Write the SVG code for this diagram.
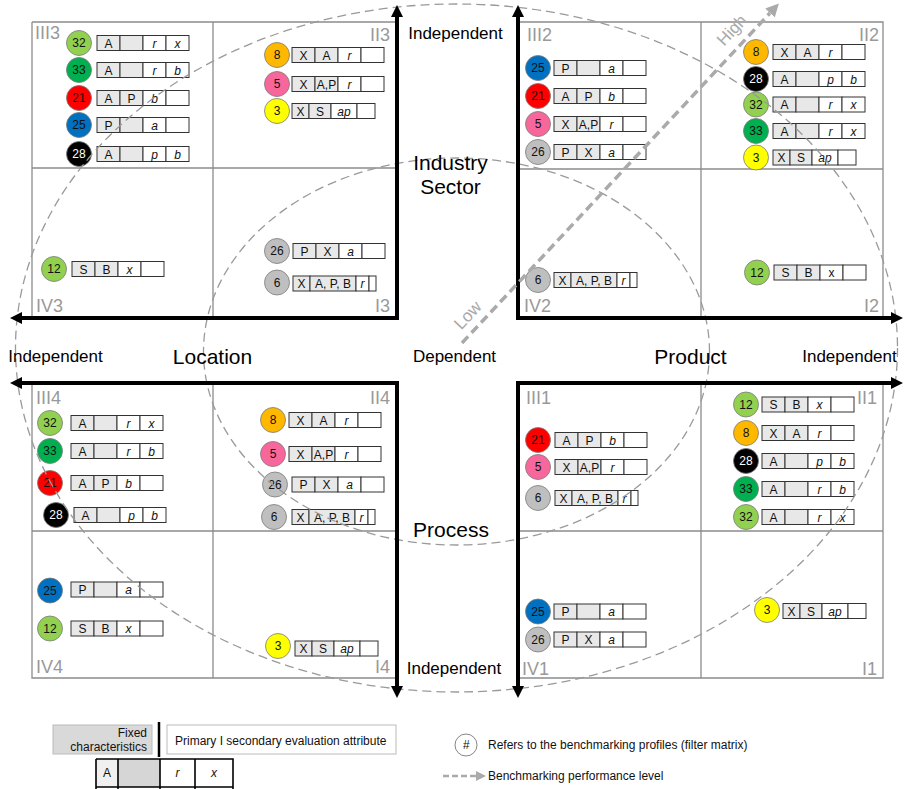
<svg xmlns="http://www.w3.org/2000/svg" xmlns:xlink="http://www.w3.org/1999/xlink" width="904" height="789" viewBox="0 0 904 789">
  <style>
    text { font-family: "Liberation Sans", Arial, sans-serif; }
    .grid { stroke: #8c8c8c; stroke-width: 1.3; fill: none; }
    .axis { stroke: #000; stroke-width: 4; fill: none; stroke-linejoin: miter; }
    .ell { stroke: #9a9a9a; stroke-width: 1.3; fill: none; stroke-dasharray: 9 5; }
    .ql { font-size: 18px; fill: #999; }
    .qr { font-size: 18px; fill: #999; text-anchor: end; }
    .lbl { font-size: 17px; fill: #000; text-anchor: middle; }
    .big { font-size: 21px; fill: #000; text-anchor: middle; }
    .pf text { font-size: 12px; text-anchor: middle; fill: #111; }
    .pf text.i { font-style: italic; }
    .pf text.w { fill: #fff; }
    .pf circle { stroke: #7a7a7a; stroke-width: 0.8; }
    .leg { font-size: 12px; fill: #111; }
  </style>
  <defs>
    <!-- profile cell rows: two fixed cells (grey) + two evaluation cells (white) -->
    <g id="r4">
      <rect x="0" y="0" width="23" height="15" fill="#e8e8e8" stroke="#333" stroke-width="1"/>
      <rect x="23" y="0" width="23" height="15" fill="#e8e8e8" stroke="#333" stroke-width="1"/>
      <rect x="46" y="0" width="23" height="15" fill="#fff" stroke="#333" stroke-width="1"/>
      <rect x="69" y="0" width="23" height="15" fill="#fff" stroke="#333" stroke-width="1"/>
    </g>
    <g id="rS">
      <rect x="0" y="0" width="17" height="15" fill="#e8e8e8" stroke="#333" stroke-width="1"/>
      <rect x="17" y="0" width="22" height="15" fill="#e8e8e8" stroke="#333" stroke-width="1"/>
      <rect x="39" y="0" width="26" height="15" fill="#fff" stroke="#333" stroke-width="1"/>
      <rect x="65" y="0" width="18" height="15" fill="#fff" stroke="#333" stroke-width="1"/>
    </g>
    <g id="rB">
      <rect x="0" y="0" width="17" height="15" fill="#e8e8e8" stroke="#333" stroke-width="1"/>
      <rect x="17" y="0" width="46" height="15" fill="#e8e8e8" stroke="#333" stroke-width="1"/>
      <rect x="63" y="0" width="13" height="15" fill="#fff" stroke="#333" stroke-width="1"/>
      <rect x="76" y="0" width="7" height="15" fill="#fff" stroke="#333" stroke-width="1"/>
    </g>
    <marker id="ah" viewBox="0 0 12 12" refX="0" refY="6" markerWidth="12" markerHeight="12" markerUnits="userSpaceOnUse" orient="auto-start-reverse">
      <path d="M0,0 L12,6 L0,12 z" fill="#000"/>
    </marker>
    <marker id="gh" viewBox="0 0 12 12" refX="0" refY="6" markerWidth="13" markerHeight="13" markerUnits="userSpaceOnUse" orient="auto">
      <path d="M0,0 L12,6 L0,12 z" fill="#aaa"/>
    </marker>
    <marker id="gh2" viewBox="0 0 12 12" refX="0" refY="6" markerWidth="10" markerHeight="10" markerUnits="userSpaceOnUse" orient="auto">
      <path d="M0,0 L12,6 L0,12 z" fill="#aaa"/>
    </marker>
  </defs>

  <rect width="904" height="789" fill="#fff"/>

  <!-- quadrant grids -->
  <g id="grids">
    <path class="grid" d="M32,22 H397 M32,22 V318 M213,22 V318 M32,168 H397"/>
    <path class="grid" d="M518,22 H883 V318 M701,22 V318 M518,169 H883"/>
    <path class="grid" d="M32,383 V678 H397 M213,383 V678 M32,531 H397"/>
    <path class="grid" d="M883,383 V678 H518 M701,383 V678 M518,531 H883"/>
  </g>

  <!-- quadrant cell labels -->
  <g id="cell-labels">
    <text class="ql" x="35" y="39">III3</text>
    <text class="qr" x="390" y="41">II3</text>
    <text class="ql" x="36" y="312">IV3</text>
    <text class="qr" x="390" y="312">I3</text>
    <text class="ql" x="527" y="41">III2</text>
    <text class="qr" x="879" y="41">II2</text>
    <text class="ql" x="524" y="312">IV2</text>
    <text class="qr" x="879" y="312">I2</text>
    <text class="ql" x="36" y="404">III4</text>
    <text class="qr" x="390" y="404">II4</text>
    <text class="ql" x="36" y="673">IV4</text>
    <text class="qr" x="390" y="673">I4</text>
    <text class="ql" x="526" y="404">III1</text>
    <text class="qr" x="877" y="404">II1</text>
    <text class="ql" x="522" y="675">IV1</text>
    <text class="qr" x="877" y="675">I1</text>
  </g>

  <!-- benchmarking profiles: quadrant 3 -->
  <g id="q3-32" class="pf" transform="translate(97,35.5)"><circle cx="-18" cy="7.5" r="12.5" fill="#92d050"/><use href="#r4"/><text x="11.5" y="12">A</text><text class="i" x="57.5" y="12">r</text><text class="i" x="80.5" y="12">x</text><text x="-18" y="11.8">32</text></g>
  <g id="q3-33" class="pf" transform="translate(97,62.5)"><circle cx="-18" cy="7.5" r="12.5" fill="#00b050"/><use href="#r4"/><text x="11.5" y="12">A</text><text class="i" x="57.5" y="12">r</text><text class="i" x="80.5" y="12">b</text><text x="-18" y="11.8">33</text></g>
  <g id="q3-21" class="pf" transform="translate(97,90.5)"><circle cx="-18" cy="7.5" r="12.5" fill="#ff0000"/><use href="#r4"/><text x="11.5" y="12">A</text><text x="34.5" y="12">P</text><text class="i" x="57.5" y="12">b</text><text x="-18" y="11.8">21</text></g>
  <g id="q3-25" class="pf" transform="translate(97,117.5)"><circle cx="-18" cy="7.5" r="12.5" fill="#0070c0"/><use href="#r4"/><text x="11.5" y="12">P</text><text class="i" x="57.5" y="12">a</text><text x="-18" y="11.8">25</text></g>
  <g id="q3-28" class="pf" transform="translate(97,146.5)"><circle cx="-18" cy="7.5" r="12.5" fill="#000"/><use href="#r4"/><text x="11.5" y="12">A</text><text class="i" x="57.5" y="12">p</text><text class="i" x="80.5" y="12">b</text><text class="w" x="-18" y="11.8">28</text></g>
  <g id="q3-8" class="pf" transform="translate(292,47.5)"><circle cx="-15" cy="7.5" r="12.5" fill="#ffb800"/><use href="#r4"/><text x="11.5" y="12">X</text><text x="34.5" y="12">A</text><text class="i" x="57.5" y="12">r</text><text x="-15" y="11.8">8</text></g>
  <g id="q3-5" class="pf" transform="translate(292,76.5)"><circle cx="-15" cy="7.5" r="12.5" fill="#f7679c"/><use href="#r4"/><text x="11.5" y="12">X</text><text x="34.5" y="12">A,P</text><text class="i" x="57.5" y="12">r</text><text x="-15" y="11.8">5</text></g>
  <g id="q3-3" class="pf" transform="translate(292,103.5)"><circle cx="-15" cy="7.5" r="12.5" fill="#ffff00"/><use href="#rS"/><text x="8.5" y="12">X</text><text x="28" y="12">S</text><text class="i" x="52" y="12">ap</text><text x="-15" y="11.8">3</text></g>
  <g id="q3-12" class="pf" transform="translate(72,261.5)"><circle cx="-18" cy="7.5" r="12.5" fill="#92d050"/><use href="#r4"/><text x="11.5" y="12">S</text><text x="34.5" y="12">B</text><text class="i" x="57.5" y="12">x</text><text x="-18" y="11.8">12</text></g>
  <g id="q3-26" class="pf" transform="translate(293,243.5)"><circle cx="-16" cy="7.5" r="12.5" fill="#bfbfbf"/><use href="#r4"/><text x="11.5" y="12">P</text><text x="34.5" y="12">X</text><text class="i" x="57.5" y="12">a</text><text x="-16" y="11.8">26</text></g>
  <g id="q3-6" class="pf" transform="translate(293,276)"><circle cx="-16" cy="6.5" r="12.5" fill="#bfbfbf"/><use href="#rB"/><text x="8.5" y="12">X</text><text x="40" y="12">A, P, B</text><text class="i" x="69.5" y="12">r</text><text x="-16" y="10.8">6</text></g>

  <!-- quadrant 2 -->
  <g id="q2-25" class="pf" transform="translate(554,60.5)"><circle cx="-16" cy="7.5" r="12.5" fill="#0070c0"/><use href="#r4"/><text x="11.5" y="12">P</text><text class="i" x="57.5" y="12">a</text><text x="-16" y="11.8">25</text></g>
  <g id="q2-21" class="pf" transform="translate(554,88.5)"><circle cx="-16" cy="7.5" r="12.5" fill="#ff0000"/><use href="#r4"/><text x="11.5" y="12">A</text><text x="34.5" y="12">P</text><text class="i" x="57.5" y="12">b</text><text x="-16" y="11.8">21</text></g>
  <g id="q2-5" class="pf" transform="translate(554,116.5)"><circle cx="-16" cy="7.5" r="12.5" fill="#f7679c"/><use href="#r4"/><text x="11.5" y="12">X</text><text x="34.5" y="12">A,P</text><text class="i" x="57.5" y="12">r</text><text x="-16" y="11.8">5</text></g>
  <g id="q2-26" class="pf" transform="translate(554,144.5)"><circle cx="-16" cy="7.5" r="12.5" fill="#bfbfbf"/><use href="#r4"/><text x="11.5" y="12">P</text><text x="34.5" y="12">X</text><text class="i" x="57.5" y="12">a</text><text x="-16" y="11.8">26</text></g>
  <g id="q2-8" class="pf" transform="translate(773,44.5)"><circle cx="-17" cy="7.5" r="12.5" fill="#ffb800"/><use href="#r4"/><text x="11.5" y="12">X</text><text x="34.5" y="12">A</text><text class="i" x="57.5" y="12">r</text><text x="-17" y="11.8">8</text></g>
  <g id="q2-28" class="pf" transform="translate(773,71.5)"><circle cx="-17" cy="7.5" r="12.5" fill="#000"/><use href="#r4"/><text x="11.5" y="12">A</text><text class="i" x="57.5" y="12">p</text><text class="i" x="80.5" y="12">b</text><text class="w" x="-17" y="11.8">28</text></g>
  <g id="q2-32" class="pf" transform="translate(773,97)"><circle cx="-17" cy="7.5" r="12.5" fill="#92d050"/><use href="#r4"/><text x="11.5" y="12">A</text><text class="i" x="57.5" y="12">r</text><text class="i" x="80.5" y="12">x</text><text x="-17" y="11.8">32</text></g>
  <g id="q2-33" class="pf" transform="translate(773,123.5)"><circle cx="-17" cy="7.5" r="12.5" fill="#00b050"/><use href="#r4"/><text x="11.5" y="12">A</text><text class="i" x="57.5" y="12">r</text><text class="i" x="80.5" y="12">x</text><text x="-17" y="11.8">33</text></g>
  <g id="q2-3" class="pf" transform="translate(773,150)"><circle cx="-17" cy="7.5" r="12.5" fill="#ffff00"/><use href="#rS"/><text x="8.5" y="12">X</text><text x="28" y="12">S</text><text class="i" x="52" y="12">ap</text><text x="-17" y="11.8">3</text></g>
  <g id="q2-6" class="pf" transform="translate(554,272.5)"><circle cx="-16" cy="7.5" r="12.5" fill="#bfbfbf"/><use href="#rB"/><text x="8.5" y="12">X</text><text x="40" y="12">A, P, B</text><text class="i" x="69.5" y="12">r</text><text x="-16" y="11.8">6</text></g>
  <g id="q2-12" class="pf" transform="translate(774,265)"><circle cx="-17" cy="7.5" r="12.5" fill="#92d050"/><use href="#r4"/><text x="11.5" y="12">S</text><text x="34.5" y="12">B</text><text x="57.5" y="12">x</text><text x="-17" y="11.8">12</text></g>

  <!-- quadrant 4 -->
  <g id="q4-32" class="pf" transform="translate(71,415.5)"><circle cx="-21" cy="7.5" r="12.5" fill="#92d050"/><use href="#r4"/><text x="11.5" y="12">A</text><text class="i" x="57.5" y="12">r</text><text class="i" x="80.5" y="12">x</text><text x="-21" y="11.8">32</text></g>
  <g id="q4-33" class="pf" transform="translate(71,443.5)"><circle cx="-21" cy="7.5" r="12.5" fill="#00b050"/><use href="#r4"/><text x="11.5" y="12">A</text><text class="i" x="57.5" y="12">r</text><text class="i" x="80.5" y="12">b</text><text x="-21" y="11.8">33</text></g>
  <g id="q4-21" class="pf" transform="translate(71,475.5)"><circle cx="-21" cy="7.5" r="12.5" fill="#ff0000"/><use href="#r4"/><text x="11.5" y="12">A</text><text x="34.5" y="12">P</text><text class="i" x="57.5" y="12">b</text><text x="-21" y="11.8">21</text></g>
  <g id="q4-28" class="pf" transform="translate(74,507.5)"><circle cx="-18" cy="7.5" r="12.5" fill="#000"/><use href="#r4"/><text x="11.5" y="12">A</text><text class="i" x="57.5" y="12">p</text><text class="i" x="80.5" y="12">b</text><text class="w" x="-18" y="11.8">28</text></g>
  <g id="q4-8" class="pf" transform="translate(289,412.5)"><circle cx="-16" cy="7.5" r="12.5" fill="#ffb800"/><use href="#r4"/><text x="11.5" y="12">X</text><text x="34.5" y="12">A</text><text class="i" x="57.5" y="12">r</text><text x="-16" y="11.8">8</text></g>
  <g id="q4-5" class="pf" transform="translate(289,446.5)"><circle cx="-16" cy="7.5" r="12.5" fill="#f7679c"/><use href="#r4"/><text x="11.5" y="12">X</text><text x="34.5" y="12">A,P</text><text class="i" x="57.5" y="12">r</text><text x="-16" y="11.8">5</text></g>
  <g id="q4-26" class="pf" transform="translate(292,477)"><circle cx="-17" cy="7.5" r="12.5" fill="#bfbfbf"/><use href="#r4"/><text x="11.5" y="12">P</text><text x="34.5" y="12">X</text><text class="i" x="57.5" y="12">a</text><text x="-17" y="11.8">26</text></g>
  <g id="q4-6" class="pf" transform="translate(292,509.5)"><circle cx="-18" cy="7.5" r="12.5" fill="#bfbfbf"/><use href="#rB"/><text x="8.5" y="12">X</text><text x="40" y="12">A, P, B</text><text class="i" x="69.5" y="12">r</text><text x="-18" y="11.8">6</text></g>
  <g id="q4-25" class="pf" transform="translate(71,582)"><circle cx="-21" cy="8.5" r="12.5" fill="#0070c0"/><use href="#r4"/><text x="11.5" y="12">P</text><text class="i" x="57.5" y="12">a</text><text x="-21" y="12.8">25</text></g>
  <g id="q4-12" class="pf" transform="translate(71,621)"><circle cx="-21" cy="7.5" r="12.5" fill="#92d050"/><use href="#r4"/><text x="11.5" y="12">S</text><text x="34.5" y="12">B</text><text class="i" x="57.5" y="12">x</text><text x="-21" y="11.8">12</text></g>
  <g id="q4-3" class="pf" transform="translate(295,641)"><circle cx="-17" cy="5" r="12.5" fill="#ffff00"/><use href="#rS"/><text x="8.5" y="12">X</text><text x="28" y="12">S</text><text class="i" x="52" y="12">ap</text><text x="-17" y="9.3">3</text></g>

  <!-- quadrant 1 -->
  <g id="q1-21" class="pf" transform="translate(555,432.5)"><circle cx="-17" cy="7.5" r="12.5" fill="#ff0000"/><use href="#r4"/><text x="11.5" y="12">A</text><text x="34.5" y="12">P</text><text class="i" x="57.5" y="12">b</text><text x="-17" y="11.8">21</text></g>
  <g id="q1-5" class="pf" transform="translate(555,459.5)"><circle cx="-17" cy="7.5" r="12.5" fill="#f7679c"/><use href="#r4"/><text x="11.5" y="12">X</text><text x="34.5" y="12">A,P</text><text class="i" x="57.5" y="12">r</text><text x="-17" y="11.8">5</text></g>
  <g id="q1-6" class="pf" transform="translate(555,490.5)"><circle cx="-17" cy="7.5" r="12.5" fill="#bfbfbf"/><use href="#rB"/><text x="8.5" y="12">X</text><text x="40" y="12">A, P, B</text><text class="i" x="69.5" y="12">r</text><text x="-17" y="11.8">6</text></g>
  <g id="q1-12" class="pf" transform="translate(762,397)"><circle cx="-16" cy="7.5" r="12.5" fill="#92d050"/><use href="#r4"/><text x="11.5" y="12">S</text><text x="34.5" y="12">B</text><text class="i" x="57.5" y="12">x</text><text x="-16" y="11.8">12</text></g>
  <g id="q1-8" class="pf" transform="translate(762,425.5)"><circle cx="-16" cy="7.5" r="12.5" fill="#ffb800"/><use href="#r4"/><text x="11.5" y="12">X</text><text x="34.5" y="12">A</text><text class="i" x="57.5" y="12">r</text><text x="-16" y="11.8">8</text></g>
  <g id="q1-28" class="pf" transform="translate(762,453.5)"><circle cx="-16" cy="7.5" r="12.5" fill="#000"/><use href="#r4"/><text x="11.5" y="12">A</text><text class="i" x="57.5" y="12">p</text><text class="i" x="80.5" y="12">b</text><text class="w" x="-16" y="11.8">28</text></g>
  <g id="q1-33" class="pf" transform="translate(762,481.5)"><circle cx="-16" cy="7.5" r="12.5" fill="#00b050"/><use href="#r4"/><text x="11.5" y="12">A</text><text class="i" x="57.5" y="12">r</text><text class="i" x="80.5" y="12">b</text><text x="-16" y="11.8">33</text></g>
  <g id="q1-32" class="pf" transform="translate(762,509.5)"><circle cx="-16" cy="7.5" r="12.5" fill="#92d050"/><use href="#r4"/><text x="11.5" y="12">A</text><text class="i" x="57.5" y="12">r</text><text class="i" x="80.5" y="12">x</text><text x="-16" y="11.8">32</text></g>
  <g id="q1-25" class="pf" transform="translate(554,604)"><circle cx="-16" cy="7.5" r="12.5" fill="#0070c0"/><use href="#r4"/><text x="11.5" y="12">P</text><text class="i" x="57.5" y="12">a</text><text x="-16" y="11.8">25</text></g>
  <g id="q1-26" class="pf" transform="translate(554,632)"><circle cx="-16" cy="7.5" r="12.5" fill="#bfbfbf"/><use href="#r4"/><text x="11.5" y="12">P</text><text x="34.5" y="12">X</text><text class="i" x="57.5" y="12">a</text><text x="-16" y="11.8">26</text></g>
  <g id="q1-3" class="pf" transform="translate(783,603.5)"><circle cx="-16" cy="6.5" r="12.5" fill="#ffff00"/><use href="#rS"/><text x="8.5" y="12">X</text><text x="28" y="12">S</text><text class="i" x="52" y="12">ap</text><text x="-16" y="10.8">3</text></g>

  <!-- performance level rings -->
  <g id="levels">
    <ellipse class="ell" cx="456.5" cy="348" rx="441" ry="344"/>
    <ellipse class="ell" cx="456.5" cy="351.5" rx="253" ry="193.5"/>
  </g>

  <!-- axes and performance arrow -->
  <g id="connectors">
    <path class="axis" d="M22,318 H397 V17" marker-start="url(#ah)" marker-end="url(#ah)"/>
    <path class="axis" d="M518,17 V318 H891" marker-start="url(#ah)" marker-end="url(#ah)"/>
    <path class="axis" d="M22,383 H397 V686" marker-start="url(#ah)" marker-end="url(#ah)"/>
    <path class="axis" d="M891,383 H518 V686" marker-start="url(#ah)" marker-end="url(#ah)"/>
    <path d="M462,343 L770,13" stroke="#aaa" stroke-width="3.5" stroke-dasharray="9 5" fill="none" marker-end="url(#gh)"/>
  </g>

  <!-- axis labels -->
  <g id="axis-labels">
    <text class="lbl" x="455.5" y="38.5">Independent</text>
    <text class="big" x="450.5" y="169.5">Industry</text>
    <text class="big" x="450.5" y="193.5">Sector</text>
    <text class="lbl" x="55.5" y="362">Independent</text>
    <text class="big" x="212.5" y="364">Location</text>
    <text class="lbl" x="454.5" y="362">Dependent</text>
    <text class="big" x="690.5" y="363.5">Product</text>
    <text class="lbl" x="849.5" y="362">Independent</text>
    <text class="big" x="451" y="537">Process</text>
    <text class="lbl" x="454" y="673.5">Independent</text>
    <text x="0" y="0" font-size="17" fill="#aaa" text-anchor="middle" transform="translate(472,319) rotate(-47)">Low</text>
    <text x="0" y="0" font-size="17" fill="#aaa" text-anchor="middle" transform="translate(736,34) rotate(-47)">High</text>
  </g>

  <!-- legend -->
  <g id="legend">
    <rect x="53" y="725" width="99" height="29" fill="#d9d9d9" stroke="#bbb" stroke-width="1"/>
    <text class="leg" x="147" y="737" text-anchor="end">Fixed</text>
    <text class="leg" x="147" y="751" text-anchor="end">characteristics</text>
    <line x1="159" y1="722" x2="159" y2="757" stroke="#000" stroke-width="2.5"/>
    <rect x="167" y="725" width="229" height="29" fill="#fff" stroke="#bbb" stroke-width="1"/>
    <text class="leg" x="175" y="745">Primary I secondary evaluation attribute</text>
    <rect x="96" y="759" width="22" height="28" fill="#f0f0f0"/>
    <rect x="118" y="759" width="42" height="28" fill="#d6d6d6"/>
    <path d="M96,759 H233 V795 M96,759 V795 M118,759 V795 M160,759 V795 M195,759 V795 M96,787 H233" stroke="#000" stroke-width="1.6" fill="none"/>
    <text class="leg" x="107" y="777" text-anchor="middle">A</text>
    <text class="leg" x="177.5" y="777" text-anchor="middle" font-style="italic">r</text>
    <text class="leg" x="214" y="777" text-anchor="middle" font-style="italic">x</text>
    <circle cx="466" cy="745" r="11" fill="#fff" stroke="#666" stroke-width="0.8"/>
    <text class="leg" x="466" y="749" text-anchor="middle" font-style="italic">#</text>
    <text class="leg" x="488" y="749">Refers to the benchmarking profiles (filter matrix)</text>
    <path d="M443,776 H476" stroke="#aaa" stroke-width="2.5" stroke-dasharray="6 3" fill="none" marker-end="url(#gh2)"/>
    <text class="leg" x="488" y="780">Benchmarking performance level</text>
  </g>
</svg>
